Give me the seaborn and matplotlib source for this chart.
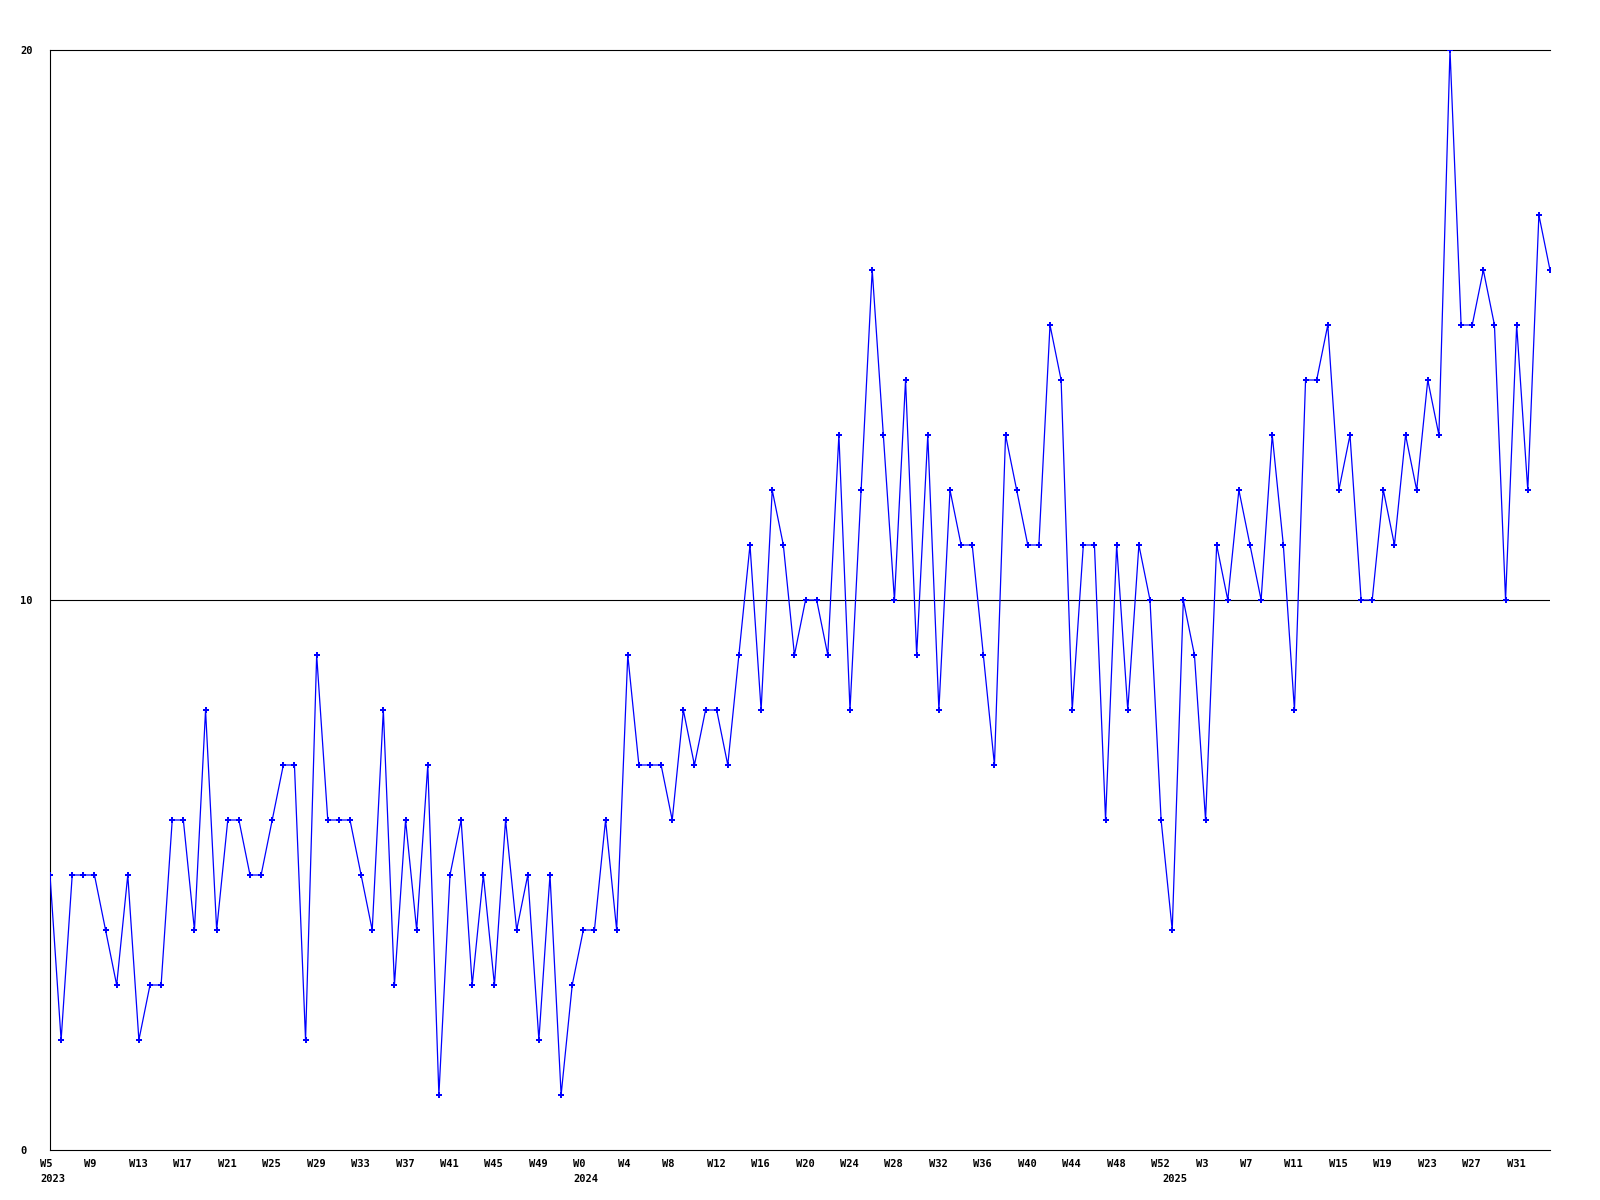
import pandas as pd
import seaborn as sns
import matplotlib.pyplot as plt
from matplotlib.transforms import ScaledTranslation

# weekly counts, 2023 W5 .. 2025 W34
counts_2023 = [5, 2, 5, 5, 5, 4, 3, 5, 2, 3,
               3, 6, 6, 4, 8, 4, 6, 6, 5, 5,
               6, 7, 7, 2, 9, 6, 6, 6, 5, 4,
               8, 3, 6, 4, 7, 1, 5, 6, 3, 5,
               3, 6, 4, 5, 2, 5, 1, 3]
counts_2024 = [4, 4, 6, 4, 9, 7, 7, 7, 6, 8,
               7, 8, 8, 7, 9, 11, 8, 12, 11, 9,
               10, 10, 9, 13, 8, 12, 16, 13, 10, 14,
               9, 13, 8, 12, 11, 11, 9, 7, 13, 12,
               11, 11, 15, 14, 8, 11, 11, 6, 11, 8,
               11, 10, 6]
counts_2025 = [4, 10, 9, 6, 11, 10, 12, 11, 10, 13,
               11, 8, 14, 14, 15, 12, 13, 10, 10, 12,
               11, 13, 12, 14, 13, 20, 15, 15, 16, 15,
               10, 15, 12, 17, 16]

week_labels = ["W5", "W9", "W13", "W17", "W21", "W25", "W29", "W33", "W37",
               "W41", "W45", "W49", "W0", "W4", "W8", "W12", "W16", "W20",
               "W24", "W28", "W32", "W36", "W40", "W44", "W48", "W52", "W3",
               "W7", "W11", "W15", "W19", "W23", "W27", "W31"]
year_labels = ["2023", "2024", "2025"]

counts = counts_2023 + counts_2024 + counts_2025
df = pd.DataFrame({"week": range(len(counts)), "count": counts})
year_starts = [0, len(counts_2023), len(counts_2023) + len(counts_2024)]

sns.set_style("white")
plt.rcParams["font.family"] = ["DejaVu Sans Mono"]
plt.rcParams["font.weight"] = "bold"
plt.rcParams["font.size"] = 7.5
plt.rcParams["text.color"] = "black"
plt.rcParams["xtick.color"] = "black"
plt.rcParams["ytick.color"] = "black"

fig = plt.figure(figsize=(16, 12), dpi=100)
ax = fig.add_axes([50 / 1600, 50 / 1200, 1500 / 1600, 1100 / 1200])

sns.lineplot(data=df, x="week", y="count", ax=ax, color="#0000ff",
             linewidth=0.9, marker="P", markersize=4.5,
             markeredgewidth=0, zorder=3)

ax.set_xlim(0, len(counts) - 1)
ax.set_ylim(0, 20)
ax.axhline(10, color="black", linewidth=0.8, zorder=2)

for side in ["left", "bottom", "top"]:
    ax.spines[side].set_color("black")
    ax.spines[side].set_linewidth(0.8)
ax.spines["right"].set_visible(False)

# y ticks
ax.set_yticks([0, 10, 20])
ax.set_yticklabels(["0", "10", "20"], ha="left", fontweight="bold", color="black")
ax.tick_params(axis="y", length=0, pad=21.6)

# week ticks, left aligned a bit before the point
shift = ScaledTranslation(-10 / 100, 0, fig.dpi_scale_trans)
ax.set_xticks(range(0, len(counts), 4))
ax.set_xticklabels(week_labels, ha="left", fontweight="bold", color="black")
ax.tick_params(axis="x", length=0, pad=6.5)
for lab in ax.get_xticklabels():
    lab.set_transform(lab.get_transform() + shift)

# year labels on a second row
sec = ax.secondary_xaxis("bottom")
sec.set_xticks(year_starts)
sec.set_xticklabels(year_labels, ha="left", fontweight="bold", color="black")
sec.tick_params(axis="x", length=0, pad=17)
sec.spines["bottom"].set_visible(False)
for lab in sec.get_xticklabels():
    lab.set_transform(lab.get_transform() + shift)

ax.set_xlabel("")
ax.set_ylabel("")

fig.savefig("out.png", dpi=100)
